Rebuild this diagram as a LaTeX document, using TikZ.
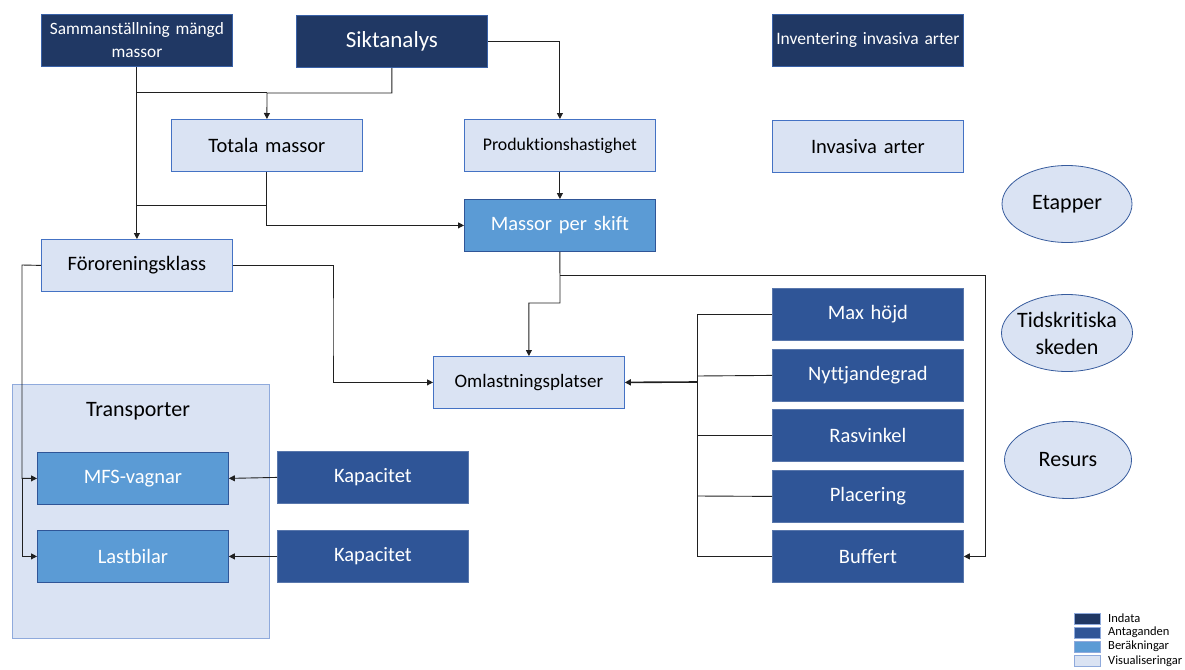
\documentclass[tikz,border=0pt]{standalone}
\usepackage{fontspec}
\setmainfont{Carlito}[Ligatures=NoCommon, WordSpace=0.85]
\usetikzlibrary{arrows.meta,shapes.geometric}
\definecolor{indata}{HTML}{203864}
\definecolor{antag}{HTML}{2F5597}
\definecolor{berak}{HTML}{5B9BD5}
\definecolor{visu}{HTML}{DAE3F3}
\definecolor{bord}{HTML}{4472C4}
\definecolor{ln}{HTML}{202020}
\tikzset{
  box/.style={draw=bord, line width=0.8pt, minimum width=191pt, minimum height=52pt, inner sep=0pt, anchor=north west, align=center, text width=188pt},
  inbox/.style={box, fill=indata, text=white, draw=bord!70!indata},
  asbox/.style={box, fill=antag, text=white, draw=antag!80!white},
  bebox/.style={box, fill=berak, text=white, draw=antag},
  vibox/.style={box, fill=visu, text=black},
  ell/.style={ellipse, draw=bord!80!black, fill=visu, line width=0.8pt, minimum width=130pt, minimum height=77pt, inner sep=0pt},
  elltext/.style={label={[align=center, font=\fontsize{22}{27}\selectfont, inner sep=0pt]center:#1}},
  conn/.style={draw=ln, line width=0.9pt},
  arr/.style={conn, -{Triangle[length=6pt,width=6pt]}},
  leg/.style={draw=bord!60!white, line width=0.5pt, minimum width=26pt, minimum height=11pt, inner sep=0pt, anchor=north west},
  legt/.style={anchor=west, font=\fontsize{12.5}{14}\selectfont, inner sep=0pt},
  big/.style={font=\fontsize{20.5}{24}\selectfont}
}
\begin{document}
\begin{tikzpicture}[x=1pt,y=-1pt]
\useasboundingbox (0,0) rectangle (1185,669);
% container
\node[draw=bord!60!white, fill=visu, line width=0.8pt, minimum width=257pt, minimum height=254pt, anchor=north west, inner sep=0pt] (trans) at (12,384) {};
\node[font=\fontsize{22}{26}\selectfont] (transt) at (138,411) {Transporter};
% top row
\node[inbox, font=\fontsize{17.3}{23}\selectfont] (samm) at (41,14) {Sammanställning mängd\\massor};
\node[inbox, font=\fontsize{23}{27}\selectfont] (sikt) at (296,15) {Siktanalys};
\node[inbox, font=\fontsize{17.5}{21}\selectfont] (inv) at (772,14) {Inventering invasiva arter};
% second row
\node[vibox, big] (tot) at (171,119) {Totala massor};
\node[vibox, font=\fontsize{17.8}{21}\selectfont] (prod) at (464,119) {Produktionshastighet};
\node[vibox, big] (invas) at (772,120) {Invasiva arter};
\node[bebox, big] (mps) at (464,199) {Massor per skift};
\node[vibox, big] (foro) at (41,239) {Föroreningsklass};
\node[vibox, font=\fontsize{19}{23}\selectfont] (oml) at (433,356) {Omlastningsplatser};
% right column
\node[asbox, big] (max) at (772,288) {Max höjd};
\node[asbox, big] (nytt) at (772,349) {Nyttjandegrad};
\node[asbox, big] (ras) at (772,409) {Rasvinkel};
\node[asbox, big] (plac) at (772,470) {Placering};
\node[asbox, big] (buff) at (772,530) {Buffert};
% transport
\node[bebox, big] (mfs) at (37,452) {MFS-vagnar};
\node[bebox, big] (last) at (37,530) {Lastbilar};
\node[asbox, big] (kap1) at (277,451) {Kapacitet};
\node[asbox, big] (kap2) at (277,530) {Kapacitet};
% ellipses
\node[ell, elltext={Etapper}] (etap) at (1067,204) {};
\node[ell, minimum width=131pt, elltext={Tidskritiska\\skeden}] (tids) at (1067,333) {};
\node[ell, minimum width=127pt, elltext={Resurs}] (res) at (1068,460) {};
% legend
\node[leg, fill=indata] (l1) at (1074,613) {};
\node[leg, fill=antag] (l2) at (1074,627) {};
\node[leg, fill=berak] (l3) at (1074,641) {};
\node[leg, fill=visu] (l4) at (1074,655) {};
\node[legt] (t1) at (1108,618) {Indata};
\node[legt] (t2) at (1108,632) {Antaganden};
\node[legt] (t3) at (1108,646) {Beräkningar};
\node[legt] (t4) at (1108,661) {Visualiseringar};
% coordinates
\coordinate (c1) at (136,92);
\coordinate (c2) at (267,93);
\coordinate (c3) at (136,205);
\coordinate (jr) at (697,382);
% connectors
\draw[arr] (samm.south) -- (foro.north);
\draw[conn] (c1) -- (267,92);
\draw[arr] (sikt.south) |- (c2) -- (tot.north);
\draw[arr] (sikt.east) -| (prod.north);
\draw[arr] (prod.south) -- (mps.north);
\draw[conn] (tot.south) |- (c3);
\draw[arr] (tot.south) |- (mps.west);
\draw[arr] (foro.west) -- (22,265) |- (mfs.west);
\draw[arr] (22,478) |- (last.west);
\draw[arr] (foro.east) -| (333,330) |- (oml.west);
\draw[arr] (mps.south) -- (560,303) -| (oml.north);
\draw[arr] (560,275) -| (985,420) |- (buff.east);
\draw[conn] (max.west) -| (jr);
\draw[conn] (nytt.west) -- (697,376);
\draw[conn] (ras.west) -| (jr);
\draw[conn] (plac.west) -- (697,496);
\draw[conn] (buff.west) -| (jr);
\draw[arr, line width=1.6pt] (jr) -- (oml.east);
\draw[arr] (kap1.west) -- (mfs.east);
\draw[arr] (kap2.west) -- (last.east);
\end{tikzpicture}
\end{document}
